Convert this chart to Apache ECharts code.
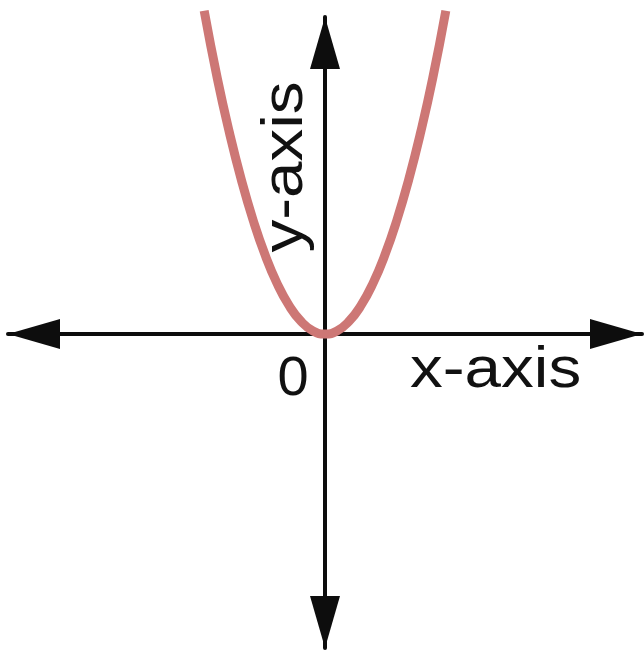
<!DOCTYPE html>
<html>
<head>
<meta charset="utf-8">
<script src="https://cdn.jsdelivr.net/npm/echarts@6/dist/echarts.min.js"></script>
<style>
  html, body { margin: 0; padding: 0; background: #ffffff; }
  #chart { width: 644px; height: 650px; }
</style>
</head>
<body>
<div id="chart"></div>
<script>
// Parabola points (x, y in axis units)
var curveX = [-2.02, -1.8, -1.6, -1.4, -1.2, -1.0, -0.8, -0.6, -0.4, -0.2, 0, 0.2, 0.4, 0.6, 0.8, 1.0, 1.2, 1.4, 1.6, 1.8, 2.02];
var curveY = [4.1, 3.24, 2.56, 1.96, 1.44, 1.0, 0.64, 0.36, 0.16, 0.04, 0, 0.04, 0.16, 0.36, 0.64, 1.0, 1.44, 1.96, 2.56, 3.24, 4.1];
// Axis extents
var xRange = [-5.3, 5.3];
var yRange = [-3.98, 4.02];
// Texts
var originLabel = '0';
var xAxisTitle = 'x-axis';
var yAxisTitle = 'y-axis';

var chart = echarts.init(document.getElementById('chart'), null, { renderer: 'canvas' });

var pts = curveX.map(function (x, i) { return [x, curveY[i]]; });

var axisCommon = {
  type: 'value',
  axisLine: {
    show: true,
    onZero: true,
    symbol: ['triangle', 'triangle'],
    symbolSize: [30, 52],
    symbolOffset: [26, -26],
    lineStyle: { color: '#0d0d0d', width: 4 }
  },
  axisTick: { show: false },
  axisLabel: { show: false },
  splitLine: { show: false }
};

var option = {
  backgroundColor: '#ffffff',
  animation: false,
  grid: { left: 8, right: 2, top: 17, bottom: 2, containLabel: false, outerBoundsMode: 'none' },
  xAxis: Object.assign({}, axisCommon, { min: xRange[0], max: xRange[1] }),
  yAxis: Object.assign({}, axisCommon, { min: yRange[0], max: yRange[1] }),
  series: [{
    type: 'line',
    data: pts,
    smooth: true,
    showSymbol: false,
    clip: false,
    z: 1,
    lineStyle: { color: '#cd7775', width: 9, cap: 'butt' }
  }],
  graphic: [
    {
      type: 'text', x: 293, y: 380,
      style: { text: originLabel, font: '56px "Liberation Sans", Arial, sans-serif', fill: '#111', align: 'center', verticalAlign: 'middle' }
    },
    {
      type: 'text', x: 410, y: 371, scaleX: 1.13,
      style: { text: xAxisTitle, font: '58px "Liberation Sans", Arial, sans-serif', fill: '#111', align: 'left', verticalAlign: 'middle' }
    },
    {
      type: 'text', x: 286, y: 167, rotation: Math.PI / 2, scaleX: 1.13,
      style: { text: yAxisTitle, font: '58px "Liberation Sans", Arial, sans-serif', fill: '#111', align: 'center', verticalAlign: 'middle' }
    }
  ]
};

chart.setOption(option);
</script>
</body>
</html>
